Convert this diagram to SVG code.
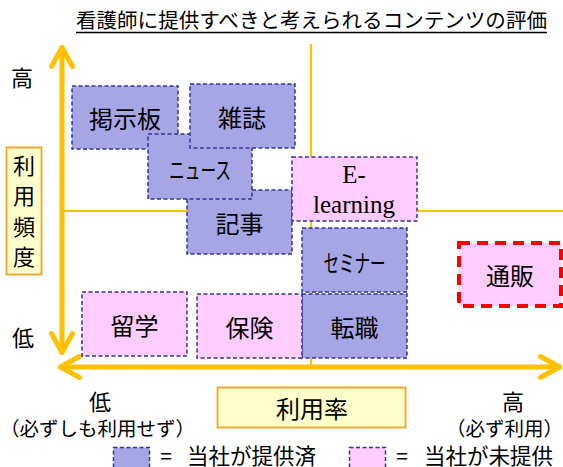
<svg xmlns="http://www.w3.org/2000/svg" width="563" height="467" viewBox="0 0 563 467">
<style>
text{font-family:"Noto Sans CJK JP","Noto Sans",sans-serif;fill:#000}
text.serif{font-family:"Liberation Serif","Times New Roman",serif;font-size:25px;text-anchor:middle}
.lbl{font-size:24px;text-anchor:middle;dominant-baseline:central}
.sm{font-size:24px}
.pv{fill:#A6A6E6;stroke:#333399;stroke-width:1.5;stroke-dasharray:4 2.5}
.np{fill:#FFCCFF;stroke:#333399;stroke-width:1.5;stroke-dasharray:4 2.5}
.ax{stroke:#FFC000;stroke-width:5;fill:none;stroke-linecap:round}
.gl{stroke:#FFC000;stroke-width:2.2;fill:none}
.ybox{fill:#FFFFCC;stroke:#F7A023;stroke-width:1.8}
.ax22{font-size:22px;text-anchor:middle}
</style>
<defs>
<marker id="chev" markerUnits="userSpaceOnUse" viewBox="-24 -14 28 28" markerWidth="28" markerHeight="28" refX="0" refY="0" orient="auto-start-reverse" overflow="visible">
<path d="M-19 -10.5 L0 0 L-19 10.5" fill="none" stroke="#FFC000" stroke-width="5" stroke-linecap="round" stroke-linejoin="round"/>
</marker>
</defs>
<rect width="563" height="467" fill="#fff"/>
<g id="title">
<text x="76" y="28" font-size="20.5" textLength="471" lengthAdjust="spacingAndGlyphs">看護師に提供すべきと考えられるコンテンツの評価</text>
<line x1="76" y1="32.5" x2="547" y2="32.5" stroke="#000" stroke-width="1.5"/>
</g>
<g id="connectors">
<line class="gl" x1="311" y1="44" x2="311" y2="367"/>
<line class="gl" x1="63" y1="211" x2="563" y2="211"/>
<line class="ax" x1="62" y1="47.5" x2="62" y2="352.5" marker-start="url(#chev)" marker-end="url(#chev)"/>
<line class="ax" x1="60.5" y1="367" x2="559.5" y2="367" marker-start="url(#chev)" marker-end="url(#chev)"/>
</g>
<g id="axis-y">
<text class="ax22" x="22" y="86">高</text>
<text class="ax22" x="23" y="346">低</text>
<rect class="ybox" x="6.5" y="147.5" width="35" height="127"/>
<text class="ax22" x="24" y="173.5">利</text>
<text class="ax22" x="24" y="204">用</text>
<text class="ax22" x="24" y="234.5">頻</text>
<text class="ax22" x="24" y="265">度</text>
</g>
<g id="axis-x">
<text class="ax22" x="100" y="410">低</text>
<text x="0" y="436" font-size="19.5">（必ずしも利用せず）</text>
<rect class="ybox" x="217.5" y="387.5" width="188" height="40"/>
<text x="312" y="418" font-size="24" text-anchor="middle">利用率</text>
<text class="ax22" x="513" y="410">高</text>
<text x="446" y="436" font-size="19.5">（必ず利用）</text>
</g>
<g id="node-keijiban"><rect class="pv" x="72" y="86" width="106" height="63"/><text class="lbl" x="125" y="117.5">掲示板</text></g>
<g id="node-kiji"><rect class="pv" x="187" y="190" width="105" height="64"/><text class="lbl" x="239.5" y="222.5">記事</text></g>
<g id="node-news"><rect class="pv" x="148" y="134" width="104" height="65"/><text class="lbl sm" x="200" y="168" textLength="62" lengthAdjust="spacingAndGlyphs">ニュース</text></g>
<g id="node-zasshi"><rect class="pv" x="190" y="84" width="105" height="64"/><text class="lbl" x="242" y="116">雑誌</text></g>
<g id="node-elearning"><rect class="np" x="292" y="157" width="125" height="64"/>
<text class="serif" x="354" y="183">E-</text>
<text class="serif" x="354" y="213">learning</text></g>
<g id="node-seminar"><rect class="pv" x="302" y="228" width="105" height="64"/><text class="lbl sm" x="354.5" y="261" textLength="62" lengthAdjust="spacingAndGlyphs">セミナー</text></g>
<g id="node-tenshoku"><rect class="pv" x="302" y="294" width="105" height="64"/><text class="lbl" x="354.5" y="326">転職</text></g>
<g id="node-ryugaku"><rect class="np" x="82" y="292" width="105" height="64"/><text class="lbl" x="134.5" y="324">留学</text></g>
<g id="node-hoken"><rect class="np" x="197" y="294" width="105" height="64"/><text class="lbl" x="249.5" y="326">保険</text></g>
<g id="node-tsuhan"><rect x="459" y="243" width="102" height="63" fill="#FFCCFF" stroke="#FF0000" stroke-width="4" stroke-dasharray="11 7"/><text class="lbl" x="510" y="274">通販</text></g>
<g id="legend">
<rect class="pv" x="113.5" y="447.5" width="36" height="26"/>
<text x="166" y="464" font-size="21" text-anchor="middle">=</text>
<text x="187" y="464" font-size="21.5">当社が提供済</text>
<rect class="np" x="349.5" y="447.5" width="36" height="26"/>
<text x="402" y="464" font-size="21" text-anchor="middle">=</text>
<text x="424" y="464" font-size="21.5">当社が未提供</text>
</g>
</svg>
